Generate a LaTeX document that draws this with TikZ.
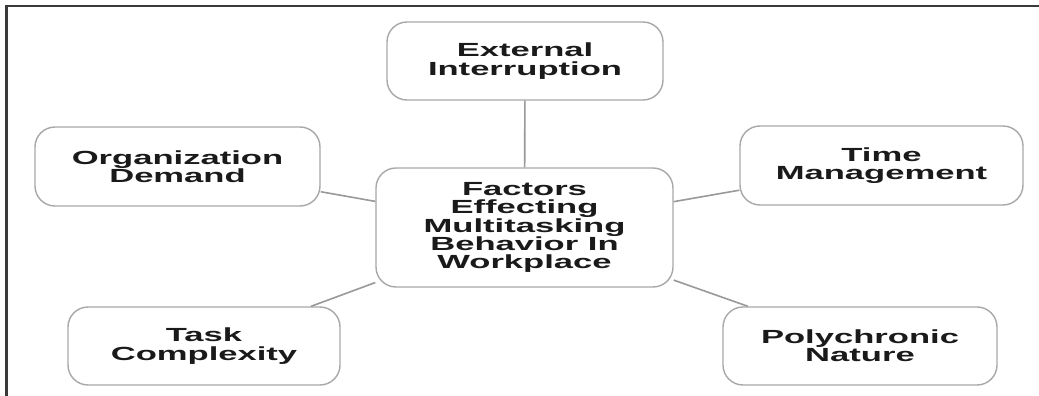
\documentclass[tikz,border=0pt]{standalone}
\usepackage{fontspec}
\setmainfont{Liberation Sans}[FakeStretch=1.82]
\begin{document}
\begin{tikzpicture}[x=1pt,y=-1pt,
  factor/.style={draw=boxgray, line width=1.4pt, rounded corners=20pt, fill=white,
    align=center, text=textblack, font=\fontsize{19}{18.3}\selectfont\bfseries,
    inner sep=0pt},
  link/.style={draw=linkgray, line width=1.6pt}]
\definecolor{boxgray}{HTML}{A8A8A8}
\definecolor{linkgray}{HTML}{999999}
\definecolor{textblack}{HTML}{1A1A1A}
\definecolor{framegray}{HTML}{3A3A3A}
\useasboundingbox (0,0) rectangle (1039,396);
\fill[white] (0,0) rectangle (1039,396);
% frame (left and top edges)
\draw[framegray, line width=3pt] (6.5,5) -- (6.5,396);
\draw[framegray, line width=2pt] (5,6.5) -- (1039,6.5);
% nodes
\node[factor, minimum width=276pt, minimum height=78pt] (ext) at (525,61) {External\\Interruption};
\node[factor, minimum width=285pt, minimum height=79pt] (org) at (177.5,166.5) {Organization\\Demand};
\node[factor, minimum width=283pt, minimum height=79pt] (time) at (881.5,165.5) {Time\\Management};
\node[factor, minimum width=297pt, minimum height=119pt] (c) at (524.5,227.5) {Factors\\Effecting\\Multitasking\\Behavior In\\Workplace};
\node[factor, minimum width=272pt, minimum height=78pt] (task) at (204,346) {Task\\Complexity};
\node[factor, minimum width=274pt, minimum height=78pt] (poly) at (860,346) {Polychronic\\Nature};
% connectors
\draw[link] (ext) -- (c);
\draw[link] (org) -- (c);
\draw[link] (time) -- (c);
\draw[link] (task) -- (c);
\draw[link] (poly) -- (c);
\end{tikzpicture}
\end{document}
